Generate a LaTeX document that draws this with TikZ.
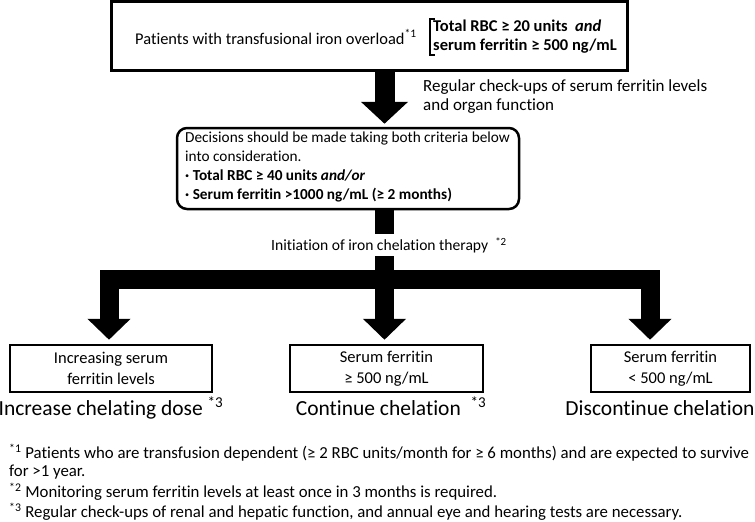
\documentclass[tikz,border=0pt]{standalone}
\usepackage{fontspec}
\setmainfont{Carlito}[Ligatures=CommonOff]
\usetikzlibrary{arrows.meta}
\begin{document}
\begin{tikzpicture}[x=1pt,y=-1pt,
  box/.style={draw, line width=2.5pt, inner sep=0pt},
  txt/.style={inner sep=0pt, font=\fontsize{17}{19}\selectfont},
  midtxt/.style={inner sep=0pt, font=\fontsize{15.3}{19}\selectfont},
  boxtxt/.style={inner sep=0pt, align=center, font=\fontsize{16.5}{21}\selectfont},
  bigarrow/.style={draw, line width=19pt, line join=miter, -{Triangle[width=42pt,length=21pt]}},
  lab/.style={inner sep=0pt, anchor=base, font=\fontsize{21.5}{24}\selectfont},
  foot/.style={inner sep=0pt, anchor=west, font=\fontsize{16.8}{19}\selectfont},
]
\useasboundingbox (0,0) rectangle (755,522);
% boxes
\node[box, line width=3pt, minimum width=516pt, minimum height=69pt] (top) at (369,35.5) {};
\node[box, rounded corners=10pt, minimum width=342pt, minimum height=81pt] (mid) at (348,168.5) {};
\node[box, minimum width=202pt, minimum height=47pt] (lbox) at (111,368.5) {};
\node[box, minimum width=193pt, minimum height=47pt] (cbox) at (386.5,368.5) {};
\node[box, minimum width=159pt, minimum height=47pt] (rbox) at (670.5,368.5) {};
% texts in top box
\node[txt, font=\fontsize{16.4}{19}\selectfont, anchor=west] (pat) at (135,37) {Patients with transfusional iron overload\textsuperscript{*1}};
\node[txt, font=\fontsize{16.5}{19}\selectfont, anchor=west, align=left] (crit) at (433,37) {\textbf{Total RBC ≥ 20 units \ \textit{and}}\\\textbf{serum ferritin ≥ 500 ng/mL}};
\draw[line width=1.3pt] ([shift={(2,-1)}]crit.north west) -- ([shift={(-3,-1)}]crit.north west) -- ([shift={(-3,1)}]crit.south west) -- ([shift={(2,1)}]crit.south west);
\node[txt, anchor=west, align=left] (chk) at (423,97) {Regular check-ups of serum ferritin levels\\and organ function};
% mid text
\node[midtxt, anchor=north west, align=left] (midtext) at (185,132) {Decisions should be made taking both criteria below\\into consideration.\\\textbf{· Total RBC ≥ 40 units \textit{and/or}}\\\textbf{· Serum ferritin >1000 ng/mL (≥ 2 months)}};
% bottom box texts
\node[boxtxt] (ltxt) at (lbox.center) {Increasing serum\\ferritin levels};
\node[boxtxt] (ctxt) at (cbox.center) {Serum ferritin\\≥ 500 ng/mL};
\node[boxtxt] (rtxt) at (rbox.center) {Serum ferritin\\< 500 ng/mL};
% arrows
\coordinate (spine) at (384.5,0);
\coordinate (lx) at (109,0);
\coordinate (rx) at (650,0);
\coordinate (hub) at (384.5,279);
\draw[bigarrow, line width=20pt, -{Triangle[width=46pt,length=22pt]}, shorten >=3pt] (top.south -| spine) -- (mid.north -| spine);
\draw[bigarrow, shorten >=4pt] (mid.south -| spine) -- (cbox.north -| spine);
\draw[bigarrow, shorten >=4pt] (hub) -| (lx |- lbox.north);
\draw[bigarrow, shorten >=4pt] (hub) -| (rx |- rbox.north);
\node[midtxt, font=\fontsize{15.6}{19}\selectfont, fill=white, inner ysep=3pt] (init) at (389,245) {Initiation of iron chelation therapy \ \textsuperscript{*2}};
% labels
\node[lab] (llab) at (111,415) {Increase chelating dose \textsuperscript{*3}};
\node[lab] (clab) at (391,415) {Continue chelation \ \textsuperscript{*3}};
\node[lab] (rlab) at (660,415) {Discontinue chelation};
% footnotes
\node[foot] (f1) at (9,453) {\textsuperscript{*1} Patients who are transfusion dependent (≥ 2 RBC units/month for ≥ 6 months) and are expected to survive};
\node[foot] (f1b) at (9,472) {for >1 year.};
\node[foot] (f2) at (9,492) {\textsuperscript{*2} Monitoring serum ferritin levels at least once in 3 months is required.};
\node[foot] (f3) at (9,512) {\textsuperscript{*3} Regular check-ups of renal and hepatic function, and annual eye and hearing tests are necessary.};
\end{tikzpicture}
\end{document}
